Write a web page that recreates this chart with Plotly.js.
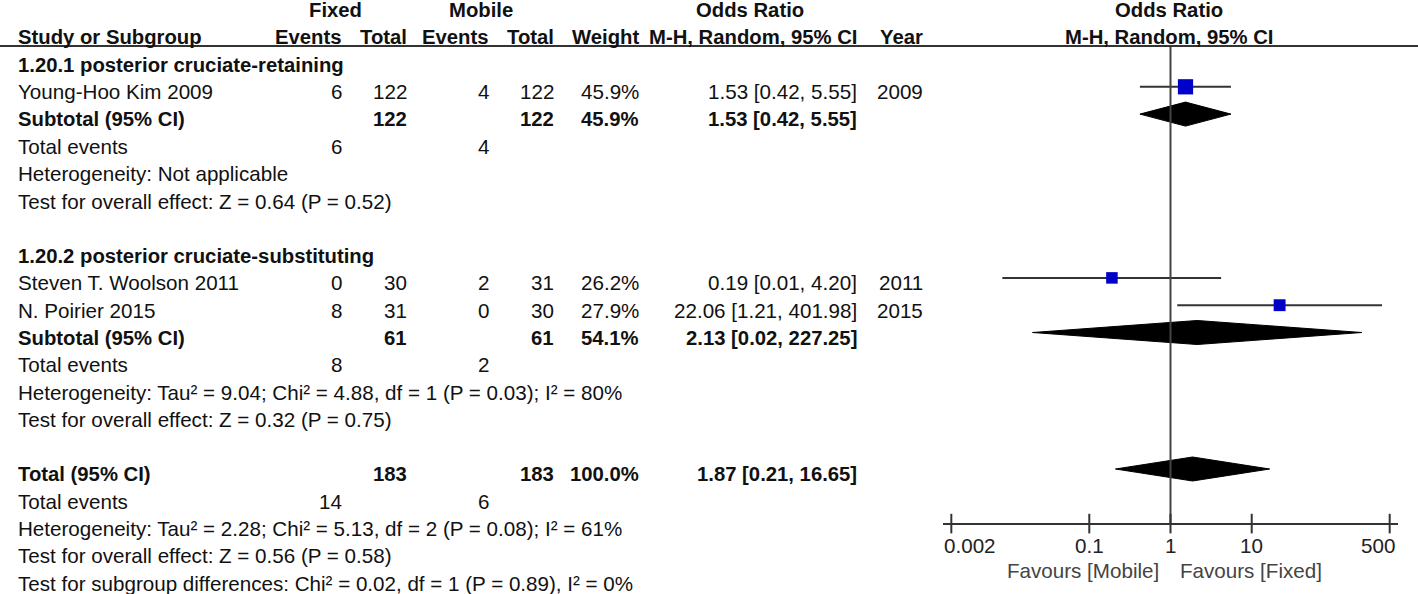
<!DOCTYPE html>
<html><head><meta charset="utf-8">
<script src="https://cdn.plot.ly/plotly-3.0.1.min.js"></script>
<style>html,body{margin:0;padding:0;background:#fff}#chart{width:1418px;height:594px}</style>
</head><body><div id="chart"></div>
<script>
// ---------- data ----------
const studies = ["Young-Hoo Kim 2009", "Steven T. Woolson 2011", "N. Poirier 2015"];
const studyGroup = [0, 1, 1];
const fixedEvents = [6, 0, 8];
const fixedTotal = [122, 30, 31];
const mobileEvents = [4, 2, 0];
const mobileTotal = [122, 31, 30];
const weightText = ["45.9%", "26.2%", "27.9%"];
const weightPct = [45.9, 26.2, 27.9];
const orText = ["1.53 [0.42, 5.55]", "0.19 [0.01, 4.20]", "22.06 [1.21, 401.98]"];
const orEst = [1.53, 0.19, 22.06];
const ciLow = [0.42, 0.0085, 1.21];
const ciHigh = [5.55, 4.20, 401.98];
const years = ["2009", "2011", "2015"];

const groupNames = ["1.20.1 posterior cruciate-retaining", "1.20.2 posterior cruciate-substituting"];
const groupFixedTotal = [122, 61];
const groupMobileTotal = [122, 61];
const groupFixedEvents = [6, 8];
const groupMobileEvents = [4, 2];
const groupWeight = ["45.9%", "54.1%"];
const groupOrText = ["1.53 [0.42, 5.55]", "2.13 [0.02, 227.25]"];
const groupEst = [1.53, 2.13];
const groupLow = [0.42, 0.02];
const groupHigh = [5.55, 227.25];
const groupHet = ["Heterogeneity: Not applicable",
  "Heterogeneity: Tau² = 9.04; Chi² = 4.88, df = 1 (P = 0.03); I² = 80%"];
const groupTest = ["Test for overall effect: Z = 0.64 (P = 0.52)",
  "Test for overall effect: Z = 0.32 (P = 0.75)"];

const overallFixedTotal = [183];
const overallMobileTotal = [183];
const overallFixedEvents = [14];
const overallMobileEvents = [6];
const overallWeight = ["100.0%"];
const overallOrText = ["1.87 [0.21, 16.65]"];
const overallEst = [1.87];
const overallLow = [0.21];
const overallHigh = [16.65];
const overallHet = ["Heterogeneity: Tau² = 2.28; Chi² = 5.13, df = 2 (P = 0.08); I² = 61%"];
const overallTests = ["Test for overall effect: Z = 0.56 (P = 0.58)",
  "Test for subgroup differences: Chi² = 0.02, df = 1 (P = 0.89), I² = 0%"];

const tickVals = [0.002, 0.1, 1, 10, 500];
const tickText = ["0.002", "0.1", "1", "10", "500"];
const favourLeft = "Favours [Mobile]";
const favourRight = "Favours [Fixed]";

// ---------- layout helpers ----------
const W = 1418, H = 594;
const FONT = "Liberation Sans, Arial, sans-serif";
const FS = 20.6, FSB = 20.3;
const TXT = "#111";
const LEFT = 16;
const col = {fe: 344, ft: 409, me: 491, mt: 556, w: 641, or: 859, yr: 925};
const annotations = [];
function txt(s, px, row, anchor, bold, opts) {
  const a = Object.assign({
    text: bold ? "<b>" + s + "</b>" : String(s),
    xref: "paper", yref: "y", x: px / W, y: row,
    xanchor: anchor, yanchor: "middle", yshift: -5,
    showarrow: false, font: {family: FONT, size: bold ? FSB : FS, color: TXT}
  }, opts || {});
  annotations.push(a);
}

// headers
txt("Fixed", 335, -2, "center", true);
txt("Mobile", 481, -2, "center", true);
txt("Odds Ratio", 750, -2, "center", true);
txt("Odds Ratio", 1169, -2, "center", true);
txt("Study or Subgroup", LEFT, -1, "left", true);
txt("Events", col.fe, -1, "right", true);
txt("Total", col.ft, -1, "right", true);
txt("Events", col.me, -1, "right", true);
txt("Total", col.mt, -1, "right", true);
txt("Weight", col.w, -1, "right", true);
txt("M-H, Random, 95% CI", col.or, -1, "right", true);
txt("Year", col.yr, -1, "right", true);
txt("M-H, Random, 95% CI", 1169, -1, "center", true);

const traces = [];
const diamondH = 0.44;
function diamond(est, lo, hi, row) {
  traces.push({type: "scatter", mode: "lines", x: [lo, est, hi, est, lo], y: [row, row - diamondH, row, row + diamondH, row],
    fill: "toself", fillcolor: "#000", line: {color: "#000", width: 1}, hoverinfo: "skip"});
}

let r = 0;
const sqX = [], sqY = [], sqS = [];
groupNames.forEach((g, gi) => {
  txt(g, LEFT, r, "left", true); r++;
  studies.forEach((s, i) => {
    if (studyGroup[i] !== gi) return;
    txt(s, LEFT, r, "left", false);
    txt(fixedEvents[i], col.fe, r, "right", false);
    txt(fixedTotal[i], col.ft, r, "right", false);
    txt(mobileEvents[i], col.me, r, "right", false);
    txt(mobileTotal[i], col.mt, r, "right", false);
    txt(weightText[i], col.w, r, "right", false);
    txt(orText[i], col.or, r, "right", false);
    txt(years[i], col.yr, r, "right", false);
    traces.push({type: "scatter", mode: "lines", x: [ciLow[i], ciHigh[i]], y: [r, r],
      line: {color: "#333", width: 2}, hoverinfo: "skip"});
    sqX.push(orEst[i]); sqY.push(r); sqS.push(2.25 * Math.sqrt(weightPct[i]));
    r++;
  });
  txt("Subtotal (95% CI)", LEFT, r, "left", true);
  txt(groupFixedTotal[gi], col.ft, r, "right", true);
  txt(groupMobileTotal[gi], col.mt, r, "right", true);
  txt(groupWeight[gi], col.w, r, "right", true);
  txt(groupOrText[gi], col.or, r, "right", true);
  diamond(groupEst[gi], groupLow[gi], groupHigh[gi], r);
  r++;
  txt("Total events", LEFT, r, "left", false);
  txt(groupFixedEvents[gi], col.fe, r, "right", false);
  txt(groupMobileEvents[gi], col.me, r, "right", false);
  r++;
  txt(groupHet[gi], LEFT, r, "left", false); r++;
  txt(groupTest[gi], LEFT, r, "left", false); r++;
  r++;
});
txt("Total (95% CI)", LEFT, r, "left", true);
txt(overallFixedTotal[0], col.ft, r, "right", true);
txt(overallMobileTotal[0], col.mt, r, "right", true);
txt(overallWeight[0], col.w, r, "right", true);
txt(overallOrText[0], col.or, r, "right", true);
diamond(overallEst[0], overallLow[0], overallHigh[0], r);
r++;
txt("Total events", LEFT, r, "left", false);
txt(overallFixedEvents[0], col.fe, r, "right", false);
txt(overallMobileEvents[0], col.me, r, "right", false);
r++;
const axisRow = r;
txt(overallHet[0], LEFT, r, "left", false); r++;
overallTests.forEach(t => { txt(t, LEFT, r, "left", false); r++; });

// squares
traces.push({type: "scatter", mode: "markers", x: sqX, y: sqY,
  marker: {symbol: "square", size: sqS, color: "#0000C8", opacity: 1, line: {color: "#0000C8", width: 0}}, hoverinfo: "skip"});
// line of no effect
traces.push({type: "scatter", mode: "lines", x: [1, 1], y: [-0.46, axisRow],
  line: {color: "#444", width: 2}, hoverinfo: "skip"});
// axis tick marks (crossing)
traces.push({type: "scatter", mode: "markers", x: tickVals, y: tickVals.map(() => axisRow),
  marker: {symbol: "line-ns", size: 14, line: {color: "#333", width: 2}}, hoverinfo: "skip"});

// axis tick labels (end labels kept inside the axis, as in RevMan)
tickVals.forEach((v, i) => {
  const first = i === 0, last = i === tickVals.length - 1;
  annotations.push({text: tickText[i], xref: "x", yref: "paper", x: Math.log10(v), y: 1 - 545 / H,
    xanchor: first ? "left" : (last ? "right" : "center"), xshift: first ? -9 : (last ? 7 : 0),
    yanchor: "middle", showarrow: false, font: {family: FONT, size: FS, color: "#222"}});
});

// favours labels
annotations.push({text: favourLeft, xref: "paper", yref: "paper", x: 1161 / W, y: 1 - 570 / H,
  xanchor: "right", yanchor: "middle", showarrow: false, font: {family: FONT, size: FS, color: "#444"}});
annotations.push({text: favourRight, xref: "paper", yref: "paper", x: 1178 / W, y: 1 - 570 / H,
  xanchor: "left", yanchor: "middle", showarrow: false, font: {family: FONT, size: FS, color: "#444"}});

const rowTop = -59.5 / 27.3, rowBot = (H - 59.5) / 27.3;
const layout = {
  width: W, height: H, margin: {l: 0, r: 0, t: 0, b: 0},
  paper_bgcolor: "#fff", plot_bgcolor: "rgba(0,0,0,0)",
  showlegend: false, hovermode: false,
  xaxis: {type: "log", range: [-2.8, 2.8], domain: [943.1 / W, 1397.9 / W],
    anchor: "free", position: 1 - (59.5 + 27.3 * axisRow) / H,
    showline: true, linecolor: "#333", linewidth: 2, ticks: "",
    tickmode: "array", tickvals: tickVals, showticklabels: false,
    showgrid: false, zeroline: false, fixedrange: true},
  yaxis: {range: [rowBot, rowTop], domain: [0, 1], visible: false, fixedrange: true},
  shapes: [{type: "line", xref: "paper", yref: "paper", x0: 0, x1: 1,
    y0: 1 - 46 / H, y1: 1 - 46 / H, line: {color: "#333", width: 2}}],
  annotations: annotations
};
Plotly.newPlot("chart", traces, layout, {staticPlot: true, displayModeBar: false});
</script>
</body></html>
